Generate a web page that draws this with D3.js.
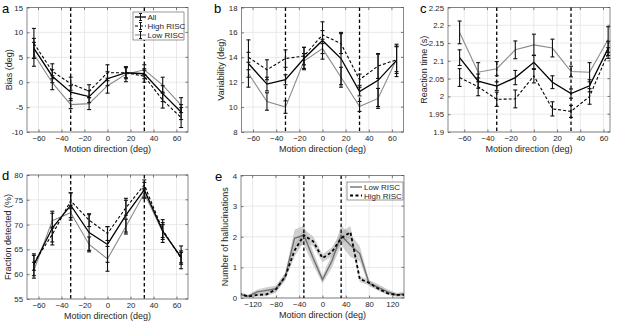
<!DOCTYPE html>
<html>
<head>
<meta charset="utf-8">
<script src="https://cdn.jsdelivr.net/npm/d3@7"></script>
<style>
  body { margin: 0; background: #fff; }
  svg { display: block; font-family: "Liberation Sans", Arial, sans-serif; }
</style>
</head>
<body>
<div id="chart"></div>
<script>
// motion directions used in panels a-d
const dirs = [-64, -48, -32, -16, 0, 16, 32, 48, 64];

// panel a: bias (deg)
const biasAll  = [6.8, 1.2, -2.0, -2.9, 0.7, 1.9, 1.7, -2.3, -6.0];
const biasHigh = [7.8, 2.2, -0.3, -1.8, 1.9, 1.9, 1.2, -3.6, -7.1];
const biasLow  = [5.6, -0.1, -4.5, -4.3, -0.7, 1.6, 2.5, -0.6, -4.6];
const biasAllErr  = [2.0, 1.3, 1.3, 1.2, 1.4, 1.0, 1.0, 1.6, 1.5];
const biasHighErr = [3.0, 1.5, 1.3, 1.3, 1.6, 1.2, 1.2, 1.6, 2.0];
const biasLowErr  = [2.4, 1.4, 0.8, 1.2, 1.5, 1.5, 1.0, 1.6, 1.5];

// panel b: variability (deg)
const varAll  = [13.5, 11.85, 12.2, 13.9, 15.35, 13.9, 11.25, 12.15, 13.75];
const varHigh = [14.0, 13.0, 13.9, 14.1, 15.8, 15.1, 12.2, 13.3, 13.8];
const varLow  = [12.7, 10.45, 10.0, 13.7, 14.7, 12.4, 10.05, 10.7, 13.85];
const varAllErr  = [1.9, 0.55, 0.4, 0.9, 1.5, 2.1, 0.35, 2.1, 1.3];
const varHighErr = [0.4, 0.8, 0.7, 0.7, 0.35, 0.8, 0.45, 1.0, 1.1];
const varLowErr  = [0.3, 0.7, 0.5, 0.6, 0.4, 0.8, 0.4, 0.8, 1.0];

// panel c: reaction time (s)
const rtAll  = [2.109, 2.043, 2.029, 2.053, 2.096, 2.040, 2.008, 2.030, 2.135];
const rtHigh = [2.053, 2.027, 1.992, 1.993, 2.058, 1.965, 1.958, 2.000, 2.122];
const rtLow  = [2.180, 2.068, 2.078, 2.131, 2.145, 2.136, 2.070, 2.068, 2.160];
const rtAllErr  = [0.022, 0.020, 0.012, 0.020, 0.020, 0.018, 0.013, 0.017, 0.020];
const rtHighErr = [0.025, 0.025, 0.020, 0.025, 0.020, 0.020, 0.017, 0.022, 0.015];
const rtLowErr  = [0.032, 0.027, 0.020, 0.025, 0.030, 0.025, 0.015, 0.027, 0.036];

// panel d: fraction detected (%)
const fdAll  = [61.9, 69.3, 73.9, 68.4, 66.0, 71.9, 77.0, 68.7, 63.4];
const fdHigh = [62.3, 68.0, 74.8, 70.9, 68.2, 73.4, 78.0, 68.9, 63.2];
const fdLow  = [60.8, 70.8, 72.4, 66.0, 63.1, 69.6, 76.3, 68.5, 63.5];
const fdAllErr  = [2.2, 3.4, 2.5, 3.6, 3.6, 3.4, 1.5, 2.3, 2.3];
const fdHighErr = [1.5, 1.5, 1.6, 1.3, 1.4, 1.5, 1.0, 1.5, 1.2];
const fdLowErr  = [1.6, 1.5, 1.5, 1.5, 2.5, 1.5, 1.0, 1.5, 1.2];

// panel e: number of hallucinations, mean and shaded error
const hallDirs = [-144, -128, -112, -96, -80, -64, -48, -32, -16, 0, 16, 32, 48, 64, 80, 96, 112, 128, 144];
const hallLow     = [0.12, 0.06, 0.2, 0.25, 0.3, 0.7, 1.95, 2.05, 1.3, 0.6, 1.2, 2.05, 1.72, 1.45, 0.48, 0.35, 0.2, 0.1, 0.15];
const hallLowErr  = [0.08, 0.05, 0.08, 0.1, 0.1, 0.12, 0.28, 0.32, 0.22, 0.13, 0.22, 0.32, 0.38, 0.25, 0.1, 0.1, 0.08, 0.06, 0.08];
const hallHigh    = [0.15, 0.05, 0.1, 0.12, 0.28, 0.7, 1.55, 2.05, 1.85, 1.3, 1.5, 1.95, 2.15, 0.62, 0.5, 0.3, 0.15, 0.1, 0.1];
const hallHighErr = [0.06, 0.04, 0.05, 0.06, 0.1, 0.12, 0.2, 0.2, 0.16, 0.13, 0.15, 0.2, 0.2, 0.1, 0.08, 0.06, 0.05, 0.05, 0.05];

const boundaries = [-32, 32];

const W = 617, H = 321;
const svg = d3.select("#chart").append("svg").attr("width", W).attr("height", H);

const textCol = "#262626";
const gridCol = "#e3e3e3";
const grayLine = "#8a8a8a";

// axes frame, grid, ticks and labels
function makeAxes(o) {
  const x = d3.scaleLinear().domain(o.xDomain).range([o.left, o.right]);
  const y = d3.scaleLinear().domain(o.yDomain).range([o.bottom, o.top]);
  const g = svg.append("g");

  // grid
  g.selectAll(".gx").data(o.xTicks).join("line")
    .attr("x1", d => x(d)).attr("x2", d => x(d))
    .attr("y1", o.top).attr("y2", o.bottom)
    .attr("stroke", gridCol).attr("stroke-width", 0.8);
  g.selectAll(".gy").data(o.yTicks).join("line")
    .attr("x1", o.left).attr("x2", o.right)
    .attr("y1", d => y(d)).attr("y2", d => y(d))
    .attr("stroke", gridCol).attr("stroke-width", 0.8);

  // axes with inward ticks
  const ax = g.append("g").attr("transform", `translate(0,${o.bottom})`)
    .call(d3.axisBottom(x).tickValues(o.xTicks).tickSizeInner(-2.5).tickSizeOuter(0).tickPadding(3));
  const ay = g.append("g").attr("transform", `translate(${o.left},0)`)
    .call(d3.axisLeft(y).tickValues(o.yTicks).tickFormat(o.yFormat || (d => d)).tickSizeInner(-2.5).tickSizeOuter(0).tickPadding(4));
  [ax, ay].forEach(a => {
    a.select(".domain").remove();
    a.selectAll("line").attr("stroke", textCol).attr("stroke-width", 0.6);
    a.selectAll("text").attr("fill", textCol).attr("font-size", 7.8)
      .attr("font-family", "Liberation Sans, Arial, sans-serif");
  });
  // top / right ticks
  g.selectAll(".tt").data(o.xTicks).join("line")
    .attr("x1", d => x(d)).attr("x2", d => x(d))
    .attr("y1", o.top).attr("y2", o.top + 2.5)
    .attr("stroke", textCol).attr("stroke-width", 0.6);
  g.selectAll(".tr").data(o.yTicks).join("line")
    .attr("x1", o.right).attr("x2", o.right - 2.5)
    .attr("y1", d => y(d)).attr("y2", d => y(d))
    .attr("stroke", textCol).attr("stroke-width", 0.6);

  // frame
  g.append("rect").attr("x", o.left).attr("y", o.top)
    .attr("width", o.right - o.left).attr("height", o.bottom - o.top)
    .attr("fill", "none").attr("stroke", "#555").attr("stroke-width", 0.7);

  // labels
  g.append("text").attr("x", (o.left + o.right) / 2).attr("y", o.bottom + 19.5)
    .attr("text-anchor", "middle").attr("font-size", 9).attr("fill", textCol)
    .text("Motion direction (deg)");
  g.append("text")
    .attr("transform", `translate(${o.yLabelX},${(o.top + o.bottom) / 2}) rotate(-90)`)
    .attr("text-anchor", "middle").attr("font-size", 9).attr("fill", textCol)
    .text(o.yLabel);
  svg.append("text").attr("x", o.letterX).attr("y", o.top + 5)
    .attr("font-size", 13).attr("fill", "#000").text(o.letter);

  const plot = svg.append("g");
  // boundary dashed lines
  plot.selectAll(".bd").data(boundaries).join("line")
    .attr("x1", d => x(d)).attr("x2", d => x(d))
    .attr("y1", o.top).attr("y2", o.bottom)
    .attr("stroke", "#000").attr("stroke-width", 1.3).attr("stroke-dasharray", "3.5,2.5");
  return { x, y, plot };
}

function errSeries(ax, xs, ys, es, style) {
  const pts = xs.map((d, i) => ({ x: d, y: ys[i], e: es[i] }));
  const line = d3.line().x(d => ax.x(d.x)).y(d => ax.y(d.y));
  ax.plot.append("path").datum(pts).attr("d", line)
    .attr("fill", "none").attr("stroke", style.color).attr("stroke-width", style.width)
    .attr("stroke-dasharray", style.dash || null);
  const eb = ax.plot.append("g").attr("stroke", "#111").attr("stroke-width", 1.1);
  pts.forEach(p => {
    const px = ax.x(p.x), y1 = ax.y(p.y - p.e), y2 = ax.y(p.y + p.e);
    eb.append("line").attr("x1", px).attr("x2", px).attr("y1", y1).attr("y2", y2);
    eb.append("line").attr("x1", px - 2).attr("x2", px + 2).attr("y1", y1).attr("y2", y1);
    eb.append("line").attr("x1", px - 2).attr("x2", px + 2).attr("y1", y2).attr("y2", y2);
  });
}

const styleAll  = { color: "#000", width: 1.3 };
const styleHigh = { color: "#000", width: 1.1, dash: "3,2" };
const styleLow  = { color: grayLine, width: 1.1 };

const dirTicks = [-60, -40, -20, 0, 20, 40, 60];

// panel a
const A = makeAxes({ left: 27, right: 188, top: 7.5, bottom: 132, xDomain: [-70, 70], yDomain: [-10, 15],
  xTicks: dirTicks, yTicks: [-10, -5, 0, 5, 10, 15], yLabel: "Bias (deg)", yLabelX: 12, letter: "a", letterX: 2 });
errSeries(A, dirs, biasLow, biasLowErr, styleLow);
errSeries(A, dirs, biasHigh, biasHighErr, styleHigh);
errSeries(A, dirs, biasAll, biasAllErr, styleAll);

// legend for panel a
const legNames = ["All", "High RISC", "Low RISC"];
const legStyles = [styleAll, styleHigh, styleLow];
const lg = svg.append("g").attr("transform", "translate(133,12)");
lg.append("rect").attr("width", 51).attr("height", 28).attr("fill", "#fff").attr("stroke", "#555").attr("stroke-width", 0.6);
legNames.forEach((n, i) => {
  const yy = 5 + i * 9;
  lg.append("line").attr("x1", 2).attr("x2", 13).attr("y1", yy).attr("y2", yy)
    .attr("stroke", legStyles[i].color).attr("stroke-width", legStyles[i].width)
    .attr("stroke-dasharray", legStyles[i].dash || null);
  lg.append("line").attr("x1", 7.5).attr("x2", 7.5).attr("y1", yy - 3.5).attr("y2", yy + 3.5).attr("stroke", "#111").attr("stroke-width", 1);
  lg.append("line").attr("x1", 6).attr("x2", 9).attr("y1", yy - 3.5).attr("y2", yy - 3.5).attr("stroke", "#111").attr("stroke-width", 1);
  lg.append("line").attr("x1", 6).attr("x2", 9).attr("y1", yy + 3.5).attr("y2", yy + 3.5).attr("stroke", "#111").attr("stroke-width", 1);
  lg.append("text").attr("x", 14.5).attr("y", yy + 3).attr("font-size", 8).attr("fill", textCol).text(n);
});

// panel b
const B = makeAxes({ left: 241.5, right: 403.5, top: 7.5, bottom: 132, xDomain: [-70, 70], yDomain: [8, 18],
  xTicks: dirTicks, yTicks: [8, 10, 12, 14, 16, 18], yLabel: "Variability (deg)", yLabelX: 224, letter: "b", letterX: 214 });
errSeries(B, dirs, varLow, varLowErr, styleLow);
errSeries(B, dirs, varHigh, varHighErr, styleHigh);
errSeries(B, dirs, varAll, varAllErr, styleAll);

// panel c
const C = makeAxes({ left: 448, right: 610, top: 7.5, bottom: 132, xDomain: [-74, 65.6], yDomain: [1.9, 2.25],
  xTicks: dirTicks, yTicks: [1.9, 1.95, 2, 2.05, 2.1, 2.15, 2.2, 2.25], yFormat: d3.format("~g"),
  yLabel: "Reaction time (s)", yLabelX: 427, letter: "c", letterX: 420 });
errSeries(C, dirs, rtLow, rtLowErr, styleLow);
errSeries(C, dirs, rtHigh, rtHighErr, styleHigh);
errSeries(C, dirs, rtAll, rtAllErr, styleAll);

// panel d
const D = makeAxes({ left: 27, right: 188, top: 175, bottom: 299, xDomain: [-70, 70], yDomain: [55, 80],
  xTicks: dirTicks, yTicks: [55, 60, 65, 70, 75, 80], yLabel: "Fraction detected (%)", yLabelX: 11, letter: "d", letterX: 2 });
errSeries(D, dirs, fdLow, fdLowErr, styleLow);
errSeries(D, dirs, fdHigh, fdHighErr, styleHigh);
errSeries(D, dirs, fdAll, fdAllErr, styleAll);

// panel e
const E = makeAxes({ left: 241, right: 404, top: 175.5, bottom: 298, xDomain: [-140, 140], yDomain: [0, 4],
  xTicks: [-120, -80, -40, 0, 40, 80, 120], yTicks: [0, 1, 2, 3, 4], yLabel: "Number of hallucinations",
  yLabelX: 228, letter: "e", letterX: 215 });
const clipId = "clipE";
svg.append("clipPath").attr("id", clipId).append("rect")
  .attr("x", 241).attr("y", 175.5).attr("width", 163).attr("height", 122.5);
E.plot.attr("clip-path", `url(#${clipId})`);

function bandSeries(ax, xs, ys, es, color, width, dash) {
  const pts = xs.map((d, i) => ({ x: d, y: ys[i], e: es[i] }));
  ax.plot.insert("path", ":first-child").datum(pts)
    .attr("d", d3.area().x(d => ax.x(d.x)).y0(d => ax.y(Math.max(0, d.y - d.e))).y1(d => ax.y(d.y + d.e)))
    .attr("fill", "#b0b0b0").attr("fill-opacity", 0.6);
  ax.plot.append("path").datum(pts)
    .attr("d", d3.line().x(d => ax.x(d.x)).y(d => ax.y(d.y)))
    .attr("fill", "none").attr("stroke", color).attr("stroke-width", width)
    .attr("stroke-dasharray", dash || null);
}
bandSeries(E, hallDirs, hallLow, hallLowErr, "#707070", 1.4);
bandSeries(E, hallDirs, hallHigh, hallHighErr, "#000", 1.8, "3,2.5");

// legend for panel e
const le = svg.append("g").attr("transform", "translate(347,182)");
le.append("rect").attr("width", 56).attr("height", 18).attr("fill", "#fff").attr("stroke", "#555").attr("stroke-width", 0.6);
[["Low RISC", "#707070", 1.4, null], ["High RISC", "#000", 1.8, "3,2.5"]].forEach((r, i) => {
  const yy = 5 + i * 8.5;
  le.append("line").attr("x1", 3).attr("x2", 15).attr("y1", yy).attr("y2", yy)
    .attr("stroke", r[1]).attr("stroke-width", r[2]).attr("stroke-dasharray", r[3]);
  le.append("text").attr("x", 17).attr("y", yy + 3).attr("font-size", 8).attr("fill", textCol).text(r[0]);
});
</script>
</body>
</html>
